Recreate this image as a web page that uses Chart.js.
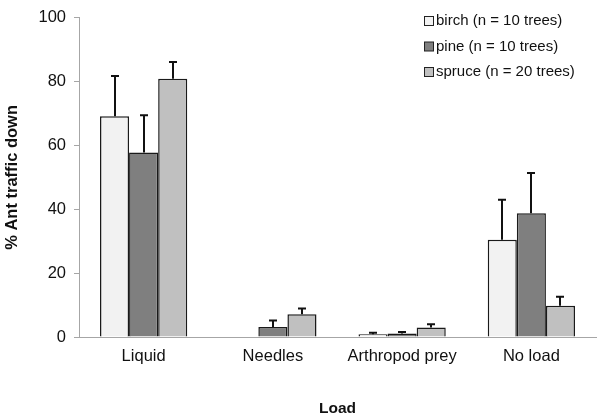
<!DOCTYPE html>
<html><head><meta charset="utf-8">
<script src="https://cdn.jsdelivr.net/npm/chart.js@4"></script>
<style>html,body{margin:0;padding:0;background:#fff}#wrap{width:600px;height:418px}</style>
</head><body><div id="wrap"><canvas id="c" width="600" height="418"></canvas></div>
<script>
const categories = ["Liquid", "Needles", "Arthropod prey", "No load"];
const seriesNames = ["birch (n = 10 trees)", "pine (n = 10 trees)", "spruce (n = 20 trees)"];
const birch = [69.2, 0, 0.9, 30.5];
const pine = [57.8, 3.1, 1.1, 38.8];
const spruce = [80.9, 7.1, 3.0, 9.8];
const birchErr = [12.6, 0, 0.4, 12.5];
const pineErr = [11.7, 2.1, 0.5, 12.6];
const spruceErr = [5.3, 1.8, 1.0, 2.8];
const yTicks = [0, 20, 40, 60, 80, 100];
const colors = ["#f2f2f2", "#7f7f7f", "#c0c0c0"];
const errs = [birchErr, pineErr, spruceErr];

const FONT = "'Liberation Sans', Arial, sans-serif";

const errorBars = {
  id: 'errorBars',
  afterDatasetsDraw(chart) {
    const ctx = chart.ctx, y = chart.scales.y;
    ctx.save();
    ctx.strokeStyle = '#111';
    ctx.lineWidth = 2;
    chart.data.datasets.forEach((ds, i) => {
      const meta = chart.getDatasetMeta(i);
      meta.data.forEach((bar, j) => {
        const e = errs[i][j];
        if (!e) return;
        const top = y.getPixelForValue(ds.data[j]);
        const tip = y.getPixelForValue(ds.data[j] + e);
        const x = Math.round(bar.x);
        ctx.beginPath();
        ctx.moveTo(x, top); ctx.lineTo(x, tip);
        ctx.moveTo(x - 4, tip); ctx.lineTo(x + 4, tip);
        ctx.stroke();
      });
    });
    ctx.restore();
  }
};

const legendBox = {
  id: 'legendBox',
  afterDraw(chart) {
    const ctx = chart.ctx;
    ctx.save();
    ctx.font = "15px " + FONT;
    ctx.textBaseline = 'middle';
    chart.data.datasets.forEach((ds, i) => {
      const yy = 21 + i * 25.5;
      const x0 = 424;
      ctx.fillStyle = ds.backgroundColor;
      ctx.fillRect(x0, yy - 4.5, 9, 9);
      ctx.strokeStyle = '#222';
      ctx.lineWidth = 1;
      ctx.strokeRect(x0 + 0.5, yy - 4.5, 9, 9);
      ctx.fillStyle = '#111';
      ctx.fillText(ds.label, x0 + 12, yy);
    });
    ctx.restore();
  }
};

new Chart(document.getElementById('c'), {
  type: 'bar',
  data: {
    labels: categories,
    datasets: [birch, pine, spruce].map((d, i) => ({
      label: seriesNames[i],
      data: d,
      backgroundColor: colors[i],
      borderColor: '#1a1a1a',
      borderWidth: 1.5,
      borderSkipped: 'bottom',
      categoryPercentage: 0.675,
      barPercentage: 1.0
    }))
  },
  options: {
    responsive: false,
    animation: false,
    devicePixelRatio: 1,
    layout: { padding: { top: 12, right: 4, left: 0, bottom: 0 } },
    plugins: { legend: { display: false }, tooltip: { enabled: false } },
    scales: {
      x: {
        grid: { display: true, drawOnChartArea: false, drawTicks: false, color: 'rgba(0,0,0,0)' },
        border: { display: true, color: '#a6a6a6', width: 1 },
        ticks: { color: '#111', font: { family: FONT, size: 16.5 }, padding: 10, maxRotation: 0 },
        title: { display: true, text: 'Load', color: '#111', font: { family: FONT, size: 15.5, weight: 'bold' }, padding: { top: 28, bottom: 0 } },
        afterFit(s) { s.height = 81; }
      },
      y: {
        min: 0, max: 100,
        afterBuildTicks(s) { s.ticks = yTicks.map(v => ({ value: v })); },
        grid: { display: true, drawOnChartArea: false, drawTicks: true, tickLength: 5, color: '#a6a6a6' },
        border: { display: true, color: '#a6a6a6', width: 1 },
        ticks: { color: '#111', font: { family: FONT, size: 16.5 }, padding: 8 },
        title: { display: true, text: '% Ant traffic down', color: '#111', font: { family: FONT, size: 16.5, weight: 'bold' }, padding: { top: 3, bottom: 10 } },
        afterFit(s) { s.width = 79; }
      }
    }
  },
  plugins: [errorBars, legendBox]
});
</script></body></html>
